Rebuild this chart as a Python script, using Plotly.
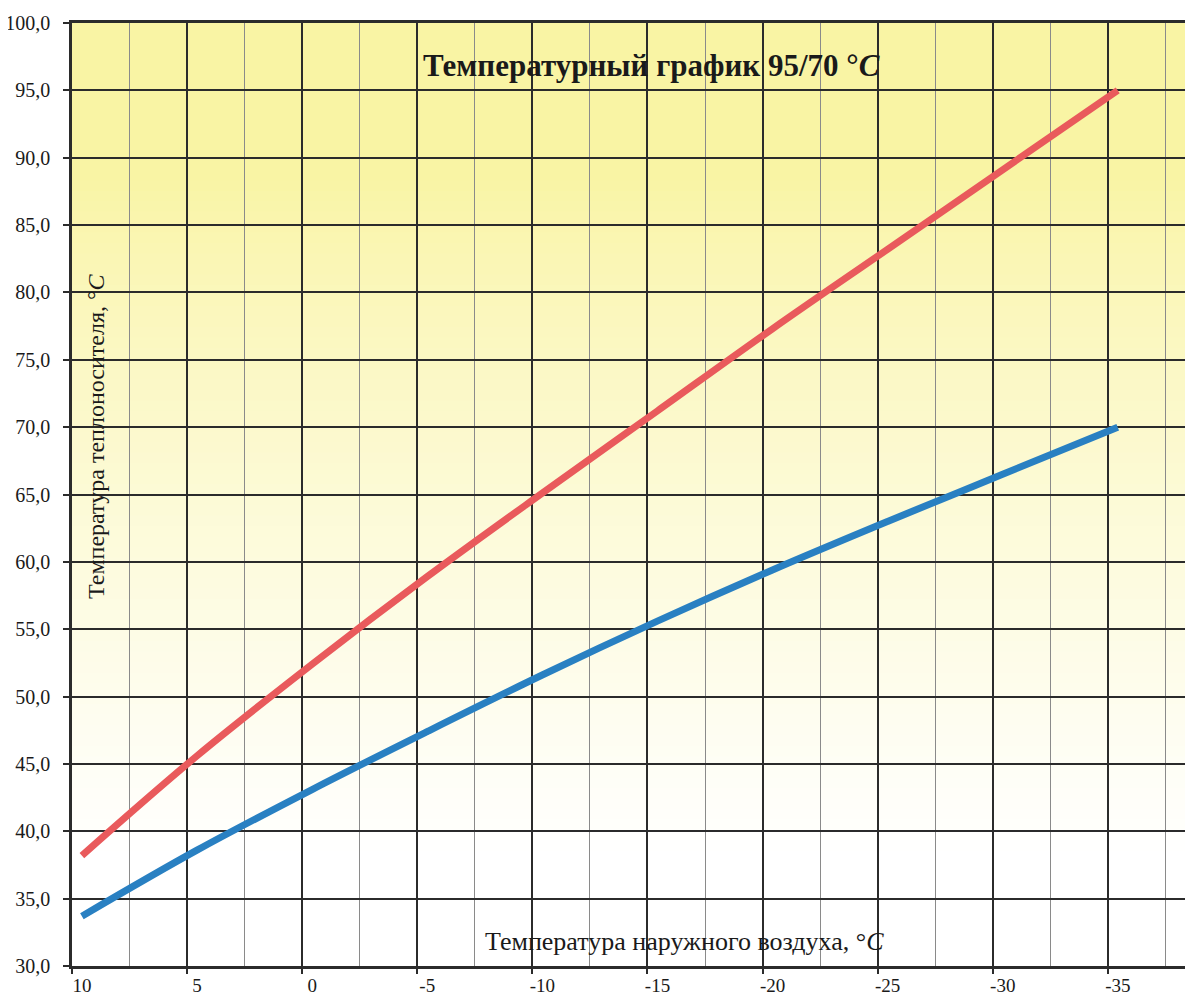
import plotly.graph_objects as go

# ---- data ----
outdoor_temp = [10, 5, 0, -5, -10, -15, -20, -25, -30, -35]
supply_temp = [38.2, 45.6, 52.4, 58.9, 65.1, 71.2, 77.3, 83.2, 89.1, 95.0]
return_temp = [33.7, 38.6, 43.1, 47.4, 51.6, 55.6, 59.4, 63.0, 66.5, 70.0]

x_tick_vals = [10, 5, 0, -5, -10, -15, -20, -25, -30, -35]
x_tick_text = ["10", "5", "0", "-5", "-10", "-15", "-20", "-25", "-30", "-35"]
y_tick_vals = [30, 35, 40, 45, 50, 55, 60, 65, 70, 75, 80, 85, 90, 95, 100]
y_tick_text = ["30,0", "35,0", "40,0", "45,0", "50,0", "55,0", "60,0", "65,0",
               "70,0", "75,0", "80,0", "85,0", "90,0", "95,0", "100,0"]

title_text = "<b>Температурный график 95/70 °<i>C</i></b>"
x_title = "Температура наружного воздуха, °<i>C</i>"
y_title = "Температура теплоносителя, °<i>C</i>"

# ---- geometry / style (page body has an 8px margin) ----
W, H = 1185, 984
ML, MR, MT, MB = 64, 0, 15, 26
X_RANGE = [10, -38.7]
DATA_SHIFT = 0.43  # the curves in the scan sit slightly right of the grid
FONT = "Liberation Serif"
DARK = "#2b2b2b"
TXT = "#1a1a1a"

fig = go.Figure()

# background gradient (yellow top fading to white), in paper coordinates
top = (249, 244, 164)
n = 90
for i in range(n):
    f0 = i / n
    f1 = (i + 1) / n
    yc = 30 + 70 * (f0 + f1) / 2
    if yc >= 88.5:
        t = 0.0
    else:
        t = min(1.0, max(0.0, (88.5 - yc) / (88.5 - 38)))
        t = t ** 0.8
    c = tuple(int(round(top[k] + (255 - top[k]) * t)) for k in range(3))
    fig.add_shape(type="rect", xref="paper", yref="paper", x0=0, x1=1,
                  y0=f0, y1=min(1.0, f1 + 0.001), line_width=0,
                  fillcolor="rgb(%d,%d,%d)" % c, layer="below")

# invisible carriers so that the grid axis and the tick-mark axis get their subplots
for ax in ("x", "x3"):
    fig.add_trace(go.Scatter(x=outdoor_temp, y=supply_temp, mode="lines",
                             line=dict(width=0, color="rgba(0,0,0,0)"), opacity=0,
                             hoverinfo="skip", xaxis=ax, yaxis="y", showlegend=False))
fig.add_trace(go.Scatter(x=outdoor_temp, y=supply_temp, mode="lines",
                         line=dict(color="#E95A5C", width=7, shape="spline", smoothing=1.0),
                         xaxis="x2", yaxis="y", name="подача"))
fig.add_trace(go.Scatter(x=outdoor_temp, y=return_temp, mode="lines",
                         line=dict(color="#2980C2", width=7, shape="spline", smoothing=1.0),
                         xaxis="x2", yaxis="y", name="обратка"))

pw = W - ML - MR
ph = H - MT - MB
OFF = 8  # body margin

def px_to_paper_x(px):
    return (px - OFF - ML) / pw

def px_to_paper_y(py):
    return 1 - (py - OFF - MT) / ph

fig.add_annotation(text=title_text, xref="paper", yref="paper",
                   x=px_to_paper_x(651), y=px_to_paper_y(66),
                   xanchor="center", yanchor="middle", showarrow=False,
                   font=dict(family=FONT, size=31, color=TXT))
fig.add_annotation(text=x_title, xref="paper", yref="paper",
                   x=px_to_paper_x(684), y=px_to_paper_y(941),
                   xanchor="center", yanchor="middle", showarrow=False,
                   font=dict(family=FONT, size=26, color=TXT))
fig.add_annotation(text=y_title, xref="paper", yref="paper", textangle=-90,
                   x=px_to_paper_x(96), y=px_to_paper_y(436),
                   xanchor="center", yanchor="middle", showarrow=False,
                   font=dict(family=FONT, size=24, color=TXT))

fig.update_layout(
    width=W, height=H,
    margin=dict(l=ML, r=MR, t=MT, b=MB, autoexpand=False),
    paper_bgcolor="white",
    plot_bgcolor="rgba(0,0,0,0)",
    showlegend=False,
    xaxis=dict(
        range=X_RANGE, tickmode="array", tickvals=x_tick_vals, ticktext=x_tick_text,
        showgrid=True, gridcolor=DARK, gridwidth=1.8,
        minor=dict(tickmode="linear", tick0=10, dtick=2.5, showgrid=True,
                   gridcolor="#8a8a8a", gridwidth=1.4, ticks=""),
        showline=True, linecolor=DARK, linewidth=2.5, mirror=True,
        ticks="",
        tickfont=dict(family=FONT, size=19, color=TXT),
        ticklabelshift=-10, ticklabelstandoff=0,
        zeroline=False, automargin=False,
    ),
    xaxis2=dict(
        range=[X_RANGE[0] + DATA_SHIFT, X_RANGE[1] + DATA_SHIFT],
        overlaying="x", visible=False, showgrid=False, zeroline=False,
    ),
    xaxis3=dict(
        range=X_RANGE, overlaying="x", tickmode="array", tickvals=x_tick_vals,
        showticklabels=False, showgrid=False, showline=False, zeroline=False,
        ticks="outside", ticklen=7, tickwidth=2, tickcolor=DARK, automargin=False,
    ),
    yaxis=dict(
        range=[30, 100], tickmode="array", tickvals=y_tick_vals, ticktext=y_tick_text,
        showgrid=True, gridcolor=DARK, gridwidth=1.8,
        showline=True, linecolor=DARK, linewidth=2.5,
        ticks="outside", ticklen=6, tickwidth=2, tickcolor=DARK,
        tickfont=dict(family=FONT, size=20, color=TXT),
        ticklabelstandoff=9,
        zeroline=False, automargin=False,
    ),
)

fig.write_html("out.html")
